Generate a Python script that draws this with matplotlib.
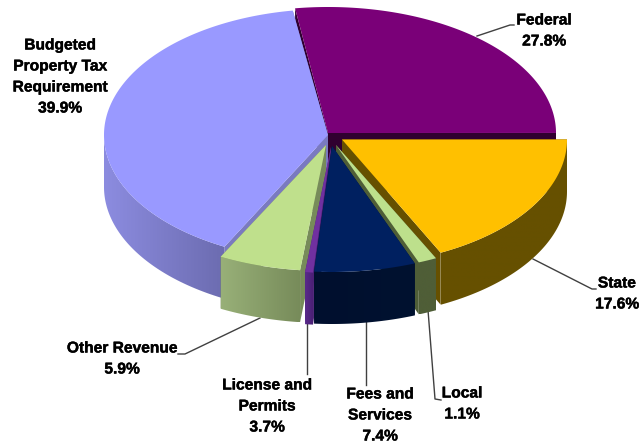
import numpy as np
import matplotlib
matplotlib.use('Agg')
import matplotlib.pyplot as plt
import matplotlib.patheffects as pe
from matplotlib.colors import to_rgb
from matplotlib.patches import Polygon

# values as drawn, going clockwise from the top (the printed License % does not match its wedge)
names = ['Federal', 'State', 'Local', 'Fees and\nServices', 'License and\nPermits', 'Other Revenue', 'Budgeted\nProperty Tax\nRequirement']
printed = ['27.8%', '17.6%', '1.1%', '7.4%', '3.7%', '5.9%', '39.9%']
shares = [27.3, 17.78, 1.31, 7.17, 0.56, 5.83, 39.84]
start_angle = 98.3

tops = ['#7a0078', '#ffc000', '#bde08c', '#002060', '#7030a0', '#bfe08c', '#9999ff']
walls = ['#300030', '#665000', '#4f5e37', '#000f2e', '#5a2a8c', '#98b078', '#8c8ce0']
walls_dark = ['#300030', '#665000', '#4f5e37', '#001230', '#4a2075', '#778b5a', '#6c6cb0']

# apex of every exploded slice, in pixels
apex_x = [328, 342, 336, 332, 331, 326, 328]
apex_y = [133, 139.5, 145, 146, 147, 145, 135]
radius_x = [228, 225, 228, 228, 228, 228, 224]
radius_y = 126
depth = 52

W, H = 639, 444
fig = plt.figure(figsize=(W / 100, H / 100), dpi=100)
ax = fig.add_axes([0, 0, 1, 1])


def rim(i, t):
    r = np.radians(t)
    return apex_x[i] + radius_x[i] * np.cos(r), apex_y[i] - radius_y * np.sin(r)


def draw_radial_wall(i, angle, z):
    x, y = rim(i, angle)
    pts = [(apex_x[i], apex_y[i]), (x, y), (x, y + depth), (apex_x[i], apex_y[i] + depth)]
    color = walls_dark[i] if i != 6 else '#7a7ac0'
    ax.add_patch(Polygon(pts, closed=True, fc=color, ec='none', zorder=z))


def draw_arc_wall(i, a1, a2, z):
    # only the part facing us, between -180 and 0 degrees
    hi = min(a1, 0)
    lo = max(a2, -180)
    if hi <= lo:
        return
    t = np.linspace(hi, lo, 80)
    x, y = rim(i, t)
    pts = np.vstack([np.column_stack([x, y]), np.column_stack([x[::-1], y[::-1] + depth])])
    poly = Polygon(pts, closed=True, fc='none', ec='none', zorder=z)
    ax.add_patch(poly)
    c1, c2 = np.array(to_rgb(walls[i])), np.array(to_rgb(walls_dark[i]))
    ramp = np.linspace(0, 1, 128)[None, :, None]
    img = c1[None, None, :] * (1 - ramp) + c2[None, None, :] * ramp
    im = ax.imshow(img, extent=[x.min(), x.max(), y.max() + depth, y.min()], aspect='auto', zorder=z, interpolation='bilinear')
    im.set_clip_path(poly)


def draw_top(i, a1, a2, z):
    t = np.linspace(a1, a2, 200)
    x, y = rim(i, t)
    pts = [(apex_x[i], apex_y[i])] + list(zip(x, y))
    ax.add_patch(Polygon(pts, closed=True, fc=tops[i], ec='none', zorder=z))


fracs = np.array(shares) * 3.6
ends = start_angle - np.cumsum(fracs)
starts = ends + fracs

# back to front: Federal, Budgeted, State, Local, Other, License, Fees
order = [0, 6, 1, 2, 5, 4, 3]
for z, i in enumerate(order):
    base = 2 + z * 3
    draw_radial_wall(i, starts[i], base)
    draw_radial_wall(i, ends[i], base)
    draw_arc_wall(i, starts[i], ends[i], base + 1)
    # Federal face goes over the tip of the Budgeted slice
    draw_top(i, starts[i], ends[i], 9 if i == 0 else base + 2)

# leader lines
leaders = [
    ([477, 510, 514], [36, 25, 25]),
    ([533, 592, 596], [259, 289, 289]),
    ([428, 435, 441], [310, 399, 400]),
    ([366, 366], [322, 385]),
    ([307, 307], [323, 374]),
    ([260, 185, 178], [318, 354, 354]),
]
for lx, ly in leaders:
    ax.plot(lx, ly, color='#404040', lw=1.0, zorder=1)

# label centres: x, y of the first line
label_x = [544, 617, 462, 380, 267, 122, 60]
label_y = [20, 283, 393, 394, 385, 348, 45]
line_gap = 21
for i, name in enumerate(names):
    lines = name.split('\n') + [printed[i]]
    for k, line in enumerate(lines):
        ax.text(label_x[i], label_y[i] + k * line_gap, line, ha='center', va='center',
                fontsize=11.2, fontweight='bold', family='Liberation Sans', color='black', zorder=40,
                path_effects=[pe.withStroke(linewidth=0.3, foreground='black')])

ax.set_xlim(0, W)
ax.set_ylim(H, 0)
ax.axis('off')
fig.savefig('out.png', dpi=100, facecolor='white')
